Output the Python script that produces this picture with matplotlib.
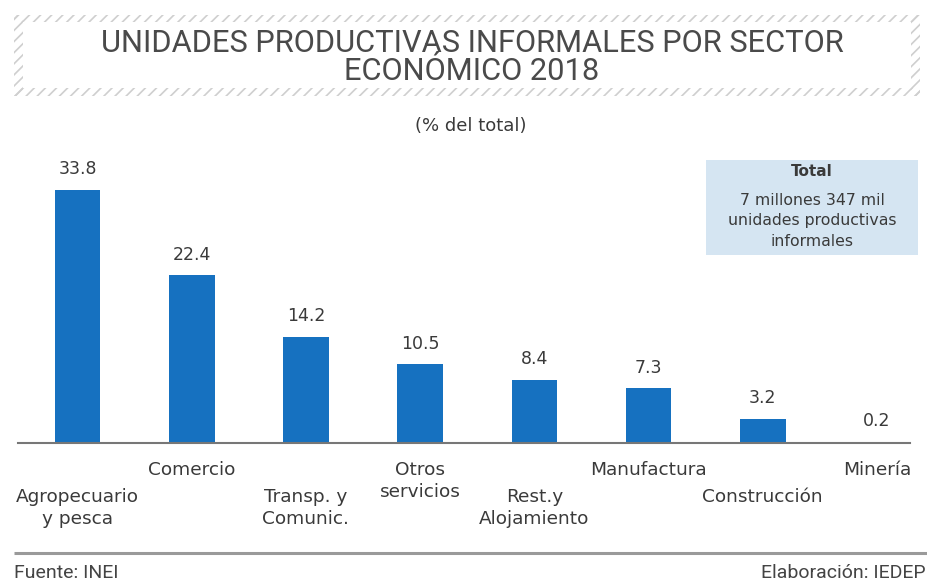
import matplotlib
matplotlib.use("Agg")
import matplotlib.pyplot as plt
from matplotlib.patches import Rectangle

plt.rcParams['font.family'] = ['DejaVu Sans']
plt.rcParams['hatch.linewidth'] = 1.2

categories = ["Agropecuario\ny pesca", "Comercio", "Transp. y\nComunic.", "Otros\nservicios",
              "Rest.y\nAlojamiento", "Manufactura", "Construcción", "Minería"]
values = [33.8, 22.4, 14.2, 10.5, 8.4, 7.3, 3.2, 0.2]
value_labels = ["33.8", "22.4", "14.2", "10.5", "8.4", "7.3", "3.2", "0.2"]
title_lines = ["UNIDADES PRODUCTIVAS INFORMALES POR SECTOR", "ECONÓMICO 2018"]
subtitle = "(% del total)"
box_title = "Total"
box_text = "7 millones 347 mil\nunidades productivas\ninformales"
source = "Fuente: INEI"
credit = "Elaboración: IEDEP"

W, H = 928, 583
fig = plt.figure(figsize=(W / 100, H / 100), dpi=100)
fig.patch.set_facecolor("white")

ov = fig.add_axes([0, 0, 1, 1])
ov.set_xlim(0, W)
ov.set_ylim(H, 0)
ov.axis("off")

TXT = "#3a3a3a"
BLUE = "#1671c0"

hc = "#cfcfcf"
for (x, y, w, h) in [(14, 15, 906, 7), (14, 88, 906, 8), (14, 15, 9, 81), (911, 15, 9, 81)]:
    ov.add_patch(Rectangle((x, y), w, h, facecolor="none", edgecolor=hc, hatch="///", linewidth=0))

title_font = ['Roboto', 'DejaVu Sans']
ov.text(472, 43, title_lines[0], ha="center", va="center", fontsize=22.2, color="#4a4a4a",
        family=title_font)
ov.text(472, 72, title_lines[1], ha="center", va="center", fontsize=22.2, color="#4a4a4a",
        family=title_font)
ov.text(471, 126, subtitle, ha="center", va="center", fontsize=13, color=TXT)

ov.add_patch(Rectangle((706, 160), 212, 95, facecolor="#d5e5f2", edgecolor="none"))
ov.text(812, 171, box_title, ha="center", va="center", fontsize=11, fontweight="bold", color=TXT)
ov.text(812, 221, box_text, ha="center", va="center", fontsize=11.3, color=TXT, linespacing=1.42)

ov.plot([14, 928], [553, 553], color="#9a9a9a", lw=2.2, solid_capstyle="butt")
foot_font = ['Roboto', 'DejaVu Sans']
ov.text(14, 573, source, ha="left", va="center", fontsize=14, color="#444444", family=foot_font)
ov.text(926, 573, credit, ha="right", va="center", fontsize=14, color="#444444", family=foot_font)

base_y = 443
top_y = 150
left_px, right_px = 18, 910
ax = fig.add_axes([left_px / W, (H - base_y) / H, (right_px - left_px) / W, (base_y - top_y) / H])
ax.patch.set_alpha(0)
x = list(range(len(categories)))
ax.bar(x, values, width=0.4, color=BLUE)
step = 114.3
ax.set_xlim(-(77.5 - left_px) / step, 7 + (right_px - 877) / step)
ax.set_ylim(0, (base_y - top_y) / 7.48)
for s in ["top", "right", "left"]:
    ax.spines[s].set_visible(False)
ax.spines["bottom"].set_color("#777777")
ax.spines["bottom"].set_linewidth(1.5)
ax.set_xticks([])
ax.set_yticks([])

for i, (v, lab) in enumerate(zip(values, value_labels)):
    ax.annotate(lab, (i, v), xytext=(0, 15), textcoords="offset points",
                ha="center", va="center", fontsize=12.5, color=TXT)

axh = base_y - top_y
for i, cat in enumerate(categories):
    top = 461 if i % 2 == 1 else 488
    ax.text(i, (base_y - top) / axh, cat,
            transform=ax.get_xaxis_transform(), ha="center", va="top",
            fontsize=13.3, color=TXT, linespacing=1.3)

fig.savefig("out.png", dpi=100, facecolor="white")
